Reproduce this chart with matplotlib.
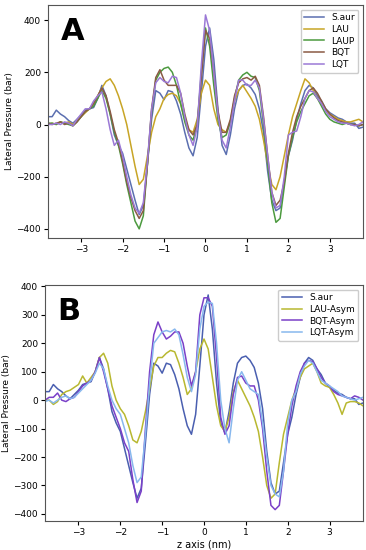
import numpy as np
import matplotlib
matplotlib.use('Agg')
import matplotlib.pyplot as plt

z = np.round(np.arange(-3.8, 3.81, 0.1), 1)

saur = [30, 30, 55, 40, 30, 15, 5, 20, 35, 55,
        60, 65, 100, 150, 110, 40, -40, -80, -110, -170,
        -230, -290, -345, -310, -150, 20, 130, 120, 95, 130,
        125, 90, 40, -30, -90, -120, -50, 120, 300, 370,
        250, 60, -80, -115, -40, 60, 130, 150, 155, 140,
        115, 60, -30, -180, -290, -330, -320, -220, -120, -60,
        20, 80, 130, 150, 140, 110, 90, 60, 45, 35,
        25, 20, 10, 5, 5, -15, -10]

lau = [0, 5, 0, 10, 5, 10, 0, 15, 30, 45,
       60, 80, 110, 140, 165, 175, 150, 110, 60, 0,
       -80, -160, -230, -210, -120, -30, 30, 60, 100, 115,
       120, 110, 80, 20, -20, -30, 20, 120, 170, 150,
       60, 0, -20, -30, 10, 90, 130, 150, 125, 100,
       70, 20, -60, -150, -230, -250, -200, -120, -40, 30,
       80, 130, 175, 160, 130, 100, 80, 55, 40, 30,
       20, 15, 10, 10, 15, 20, 10]

laup = [5, 5, 0, 10, 5, 0, -5, 10, 30, 50,
        60, 70, 100, 130, 100, 40, -30, -80, -150, -230,
        -300, -370, -400, -350, -150, 50, 170, 200, 215, 220,
        200, 150, 80, 10, -40, -60, 0, 200, 370, 300,
        150, 20, -50, -40, 10, 100, 170, 190, 200, 185,
        180, 130, 0, -150, -300, -375, -360, -240, -120, -50,
        10, 50, 80, 110, 120, 100, 70, 40, 20, 10,
        5, 0, 5, 0, 0, -5, 0]

bqt = [5, 0, 5, 10, 0, 5, -5, 10, 30, 50,
       60, 80, 110, 140, 110, 50, -20, -70, -140, -220,
       -280, -330, -360, -330, -150, 60, 180, 210, 170, 150,
       150, 150, 120, 40, -20, -40, 0, 180, 360, 330,
       200, 50, -30, -30, 20, 110, 160, 175, 180, 170,
       185, 150, 30, -120, -260, -310, -290, -220, -110, -30,
       30, 70, 100, 130, 140, 120, 90, 60, 40, 25,
       15, 10, 5, 0, 0, -5, 0]

lqt = [0, 0, 5, 0, 10, 5, -5, 20, 40, 60,
       60, 90, 110, 125, 60, -20, -80, -60, -120, -200,
       -270, -320, -340, -300, -140, 60, 160, 180, 165, 160,
       185, 180, 120, 30, -40, -80, -10, 230, 420, 360,
       200, 40, -60, -90, -10, 90, 170, 170, 150, 150,
       170, 140, 20, -120, -260, -320, -310, -200, -40, -30,
       -25, 30, 100, 130, 125, 100, 80, 50, 30, 20,
       10, 5, 5, 0, -5, 0, 10]

lau_asym = [0, 0, -15, -5, 20, 30, 35, 45, 55, 85,
            60, 80, 100, 150, 165, 130, 50, 0, -30, -50,
            -90, -140, -150, -110, -40, 40, 120, 150, 150, 165,
            175, 170, 130, 80, 20, 40, 100, 180, 215, 180,
            80, -20, -90, -110, -60, 30, 70, 40, 10, -20,
            -60, -110, -200, -300, -345, -330, -220, -120, -60, 0,
            40, 80, 110, 120, 130, 100, 60, 50, 45, 20,
            -10, -50, -10, -5, -5, -10, -20]

bqt_asym = [0, 10, 10, 25, 0, -5, 5, 10, 30, 50,
            60, 70, 100, 150, 100, 40, -20, -60, -100, -150,
            -180, -280, -360, -320, -100, 100, 230, 275, 240, 215,
            225, 240, 240, 200, 120, 50, 100, 300, 360, 360,
            330, 150, -60, -120, -90, 20, 80, 85, 60, 50,
            50, 0, -100, -250, -370, -385, -370, -250, -120, -20,
            50, 100, 130, 140, 135, 110, 80, 60, 50, 30,
            20, 15, 10, 5, 15, 10, 0]

lqt_asym = [-5, 0, -10, 0, 10, 15, 5, 10, 25, 40,
            55, 70, 95, 130, 110, 50, 0, -30, -50, -100,
            -150, -230, -290, -270, -120, 60, 200, 220, 240, 245,
            240, 250, 230, 160, 80, 30, 90, 250, 330, 345,
            340, 200, 0, -100, -150, -30, 70, 100, 70, 40,
            30, 20, -80, -200, -300, -330, -340, -250, -80, 0,
            30, 90, 120, 140, 130, 100, 70, 60, 50, 40,
            30, 15, 10, 5, 0, 5, 10]

fs = 6.5
lw = 1.1

fig = plt.figure(figsize=(3.66, 5.5), dpi=100)
axA = fig.add_axes([48/366, 1 - 238/550, 315/366, 233/550])
axB = fig.add_axes([45/366, 1 - 521/550, 318/366, 236/550])

# panel A
axA.plot(z, saur, color='#5b6fb0', lw=lw, label='S.aur')
axA.plot(z, lau, color='#c8a526', lw=lw, label='LAU')
axA.plot(z, laup, color='#4c9a3f', lw=lw, label='LAUP')
axA.plot(z, bqt, color='#8a5a44', lw=lw, label='BQT')
axA.plot(z, lqt, color='#9b79d6', lw=lw, label='LQT')
axA.set_xlim(-3.8, 3.8)
axA.set_ylim(-435, 458)
axA.set_yticks([-400, -200, 0, 200, 400])
axA.set_xticks([-3, -2, -1, 0, 1, 2, 3])
axA.set_ylabel('Lateral Pressure (bar)', fontsize=fs, labelpad=2)
axA.legend(loc='upper right', fontsize=fs, handlelength=2.2, labelspacing=0.3,
           borderpad=0.4, framealpha=1)
axA.text(0.04, 0.95, 'A', transform=axA.transAxes, fontsize=22,
         fontweight='bold', va='top', ha='left')

# panel B
axB.plot(z, saur, color='#4a5fb0', lw=lw, label='S.aur')
axB.plot(z, lau_asym, color='#b8b830', lw=lw, label='LAU-Asym')
axB.plot(z, bqt_asym, color='#7a40c8', lw=lw, label='BQT-Asym')
axB.plot(z, lqt_asym, color='#88b8ee', lw=lw, label='LQT-Asym')
axB.set_xlim(-3.8, 3.8)
axB.set_ylim(-425, 405)
axB.set_yticks(np.arange(-400, 401, 100))
axB.set_xticks([-3, -2, -1, 0, 1, 2, 3])
axB.set_ylabel('Lateral Pressure (bar)', fontsize=fs, labelpad=2)
axB.set_xlabel('z axis (nm)', fontsize=fs + 0.5, labelpad=2)
axB.legend(loc='upper right', fontsize=fs, handlelength=2.2, labelspacing=0.3,
           borderpad=0.4, framealpha=1)
axB.text(0.04, 0.95, 'B', transform=axB.transAxes, fontsize=22,
         fontweight='bold', va='top', ha='left')

for ax in (axA, axB):
    ax.tick_params(labelsize=fs, length=3, pad=2)
    for sp in ax.spines.values():
        sp.set_color('#555555')
        sp.set_linewidth(0.8)

fig.savefig('out.png', dpi=100)
